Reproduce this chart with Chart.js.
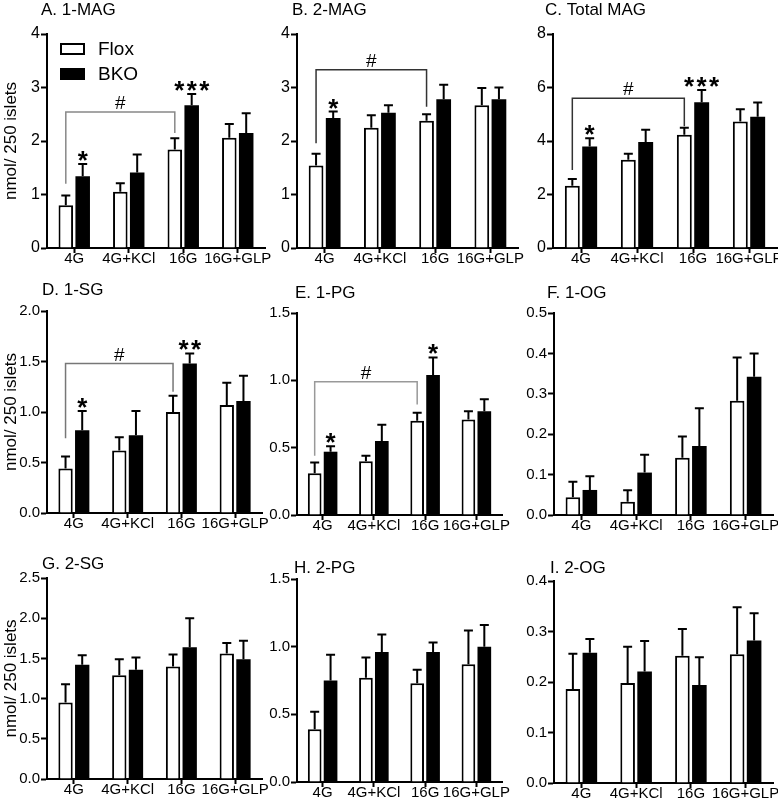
<!DOCTYPE html>
<html>
<head>
<meta charset="utf-8">
<script src="https://cdn.jsdelivr.net/npm/chart.js@4.4.0/dist/chart.umd.min.js"></script>
<style>
  html, body { margin: 0; padding: 0; background: #fff; overflow: hidden; }
  #wrap { position: relative; width: 778px; height: 805px; }
  canvas { position: absolute; }
</style>
</head>
<body>
<div id="wrap"></div>
<script>
const categories = ['4G', '4G+KCl', '16G', '16G+GLP'];

// A. 1-MAG
const floxA = [0.80, 1.05, 1.84, 2.06];
const floxAErr = [0.18, 0.16, 0.21, 0.26];
const bkoA = [1.34, 1.41, 2.67, 2.15];
const bkoAErr = [0.23, 0.34, 0.21, 0.37];
const ticksA = [0, 1, 2, 3, 4];
const starsA = [[0, 1], [2, 3]];
const bracketA = [2.54, 1.2, 2.15];

// B. 2-MAG
const floxB = [1.54, 2.25, 2.38, 2.67];
const floxBErr = [0.22, 0.23, 0.12, 0.32];
const bkoB = [2.43, 2.53, 2.78, 2.78];
const bkoBErr = [0.12, 0.14, 0.27, 0.22];
const ticksB = [0, 1, 2, 3, 4];
const starsB = [[0, 1]];
const bracketB = [3.33, 1.96, 2.64];

// C. Total MAG
const floxC = [2.33, 3.30, 4.23, 4.73];
const floxCErr = [0.25, 0.22, 0.27, 0.46];
const bkoC = [3.79, 3.96, 5.45, 4.91];
const bkoCErr = [0.31, 0.46, 0.46, 0.53];
const ticksC = [0, 2, 4, 6, 8];
const starsC = [[0, 1], [2, 3]];
const bracketC = [5.6, 2.92, 4.55];

// D. 1-SG
const floxD = [0.44, 0.62, 1.00, 1.07];
const floxDErr = [0.12, 0.13, 0.16, 0.22];
const bkoD = [0.82, 0.77, 1.48, 1.11];
const bkoDErr = [0.19, 0.24, 0.10, 0.25];
const ticksD = [0, 0.5, 1.0, 1.5, 2.0];
const starsD = [[0, 1], [2, 2]];
const bracketD = [1.48, 0.74, 1.2];

// E. 1-PG
const floxE = [0.31, 0.40, 0.70, 0.71];
const floxEErr = [0.08, 0.04, 0.06, 0.06];
const bkoE = [0.47, 0.55, 1.04, 0.77];
const bkoEErr = [0.04, 0.12, 0.13, 0.09];
const ticksE = [0, 0.5, 1.0, 1.5];
const starsE = [[0, 1], [2, 1]];
const bracketE = [0.99, 0.44, 0.82];

// F. 1-OG
const floxF = [0.044, 0.033, 0.142, 0.283];
const floxFErr = [0.038, 0.028, 0.052, 0.107];
const bkoF = [0.062, 0.105, 0.171, 0.342];
const bkoFErr = [0.034, 0.044, 0.093, 0.058];
const ticksF = [0, 0.1, 0.2, 0.3, 0.4, 0.5];

// G. 2-SG
const floxG = [0.95, 1.29, 1.40, 1.56];
const floxGErr = [0.23, 0.20, 0.15, 0.13];
const bkoG = [1.42, 1.36, 1.64, 1.49];
const bkoGErr = [0.12, 0.15, 0.36, 0.23];
const ticksG = [0, 0.5, 1.0, 1.5, 2.0, 2.5];

// H. 2-PG
const floxH = [0.39, 0.77, 0.73, 0.87];
const floxHErr = [0.13, 0.15, 0.10, 0.25];
const bkoH = [0.75, 0.96, 0.96, 1.00];
const bkoHErr = [0.19, 0.13, 0.07, 0.16];
const ticksH = [0, 0.5, 1.0, 1.5];

// I. 2-OG
const floxI = [0.186, 0.198, 0.252, 0.255];
const floxIErr = [0.070, 0.072, 0.053, 0.093];
const bkoI = [0.258, 0.221, 0.194, 0.282];
const bkoIErr = [0.027, 0.060, 0.055, 0.054];
const ticksI = [0, 0.1, 0.2, 0.3, 0.4];

const FONT = '"Liberation Sans", Arial, sans-serif';
Chart.defaults.font.family = FONT;
Chart.defaults.color = '#000';

// box: canvas left, axis left, axis right, plot top, plot bottom
const panels = [
  { title: 'A. 1-MAG', flox: floxA, floxErr: floxAErr, bko: bkoA, bkoErr: bkoAErr, ticks: ticksA, dec: 0, stars: starsA, bracket: bracketA, bColor: '#888', box: [0, 47, 265, 34, 248], tpos: [-6, 19], yTitle: true, legend: true },
  { title: 'B. 2-MAG', flox: floxB, floxErr: floxBErr, bko: bkoB, bkoErr: bkoBErr, ticks: ticksB, dec: 0, stars: starsB, bracket: bracketB, bColor: '#333', box: [255, 297, 518, 34, 248], tpos: [-5, 19] },
  { title: 'C. Total MAG', flox: floxC, floxErr: floxCErr, bko: bkoC, bkoErr: bkoCErr, ticks: ticksC, dec: 0, stars: starsC, bracket: bracketC, bColor: '#333', box: [510, 553, 777, 34, 248], tpos: [-8, 19] },
  { title: 'D. 1-SG', flox: floxD, floxErr: floxDErr, bko: bkoD, bkoErr: bkoDErr, ticks: ticksD, dec: 1, stars: starsD, bracket: bracketD, bColor: '#777', box: [0, 47, 262, 311, 513], tpos: [-5, 16], yTitle: true },
  { title: 'E. 1-PG', flox: floxE, floxErr: floxEErr, bko: bkoE, bkoErr: bkoEErr, ticks: ticksE, dec: 1, stars: starsE, bracket: bracketE, bColor: '#999', box: [255, 297, 502, 313, 515], tpos: [-2, 15] },
  { title: 'F. 1-OG', flox: floxF, floxErr: floxFErr, bko: bkoF, bkoErr: bkoFErr, ticks: ticksF, dec: 1, box: [510, 554, 773, 313, 515], tpos: [-7, 15] },
  { title: 'G. 2-SG', flox: floxG, floxErr: floxGErr, bko: bkoG, bkoErr: bkoGErr, ticks: ticksG, dec: 1, box: [0, 47, 262, 578, 779], tpos: [-5, 9], yTitle: true },
  { title: 'H. 2-PG', flox: floxH, floxErr: floxHErr, bko: bkoH, bkoErr: bkoHErr, ticks: ticksH, dec: 1, box: [255, 297, 502, 579, 782], tpos: [-3, 6] },
  { title: 'I. 2-OG', flox: floxI, floxErr: floxIErr, bko: bkoI, bkoErr: bkoIErr, ticks: ticksI, dec: 1, box: [510, 554, 773, 581, 783], tpos: [-4, 8] }
];

const errorBars = {
  id: 'errorBars',
  afterDatasetsDraw(chart) {
    const ctx = chart.ctx, y = chart.scales.y;
    chart.data.datasets.forEach((ds, di) => {
      chart.getDatasetMeta(di).data.forEach((bar, i) => {
        const top = y.getPixelForValue(ds.data[i] + ds.errors[i]);
        ctx.save();
        ctx.strokeStyle = '#000';
        ctx.lineWidth = 2;
        ctx.beginPath();
        ctx.moveTo(bar.x, bar.y);
        ctx.lineTo(bar.x, top);
        ctx.moveTo(bar.x - 4.5, top);
        ctx.lineTo(bar.x + 4.5, top);
        ctx.stroke();
        ctx.restore();
      });
    });
  }
};

const annotations = {
  id: 'annotations',
  afterDraw(chart, args, opts) {
    const ctx = chart.ctx, y = chart.scales.y, area = chart.chartArea;
    const p = opts.panel;
    const flox = chart.getDatasetMeta(0).data, bko = chart.getDatasetMeta(1).data;
    ctx.save();
    ctx.fillStyle = '#000';
    // panel title
    ctx.font = '17px ' + FONT;
    ctx.textAlign = 'left';
    ctx.textBaseline = 'alphabetic';
    ctx.fillText(p.title, area.left + p.tpos[0], area.top - p.tpos[1]);
    // significance stars, one glyph each so they sit close together
    (p.stars || []).forEach(([i, n]) => {
      const cap = y.getPixelForValue(p.bko[i] + p.bkoErr[i]);
      ctx.font = 'bold 26px ' + FONT;
      ctx.textAlign = 'center';
      for (let k = 0; k < n; k++) {
        ctx.fillText('*', bko[i].x + (k - (n - 1) / 2) * 12.5, cap + 5);
      }
    });
    // bracket with #
    if (p.bracket) {
      const [yv, l, r] = p.bracket;
      const x1 = flox[0].x, x2 = flox[2].x;
      const yy = y.getPixelForValue(yv);
      ctx.strokeStyle = p.bColor;
      ctx.lineWidth = 1.5;
      ctx.beginPath();
      ctx.moveTo(x1, y.getPixelForValue(l));
      ctx.lineTo(x1, yy);
      ctx.lineTo(x2, yy);
      ctx.lineTo(x2, y.getPixelForValue(r));
      ctx.stroke();
      ctx.font = '19px ' + FONT;
      ctx.textAlign = 'center';
      ctx.fillText('#', (x1 + x2) / 2, yy - 3);
    }
    // legend
    if (p.legend) {
      const lx = area.left + 13;
      ctx.lineWidth = 2;
      ctx.strokeStyle = '#000';
      ctx.fillStyle = '#fff';
      ctx.fillRect(lx, area.top + 9, 25, 12);
      ctx.strokeRect(lx + 1, area.top + 10, 23, 10);
      ctx.fillStyle = '#000';
      ctx.fillRect(lx, area.top + 34, 25, 12);
      ctx.font = '19px ' + FONT;
      ctx.textAlign = 'left';
      ctx.textBaseline = 'middle';
      ctx.fillText('Flox', area.left + 51, area.top + 16);
      ctx.fillText('BKO', area.left + 51, area.top + 41);
    }
    ctx.restore();
  }
};

const wrap = document.getElementById('wrap');
panels.forEach(p => {
  const [cl, al, ar, pt, pb] = p.box;
  const ct = pt - 34;
  const canvas = document.createElement('canvas');
  canvas.width = ar + 14 - cl;
  canvas.height = pb + 30 - ct;
  canvas.style.left = cl + 'px';
  canvas.style.top = ct + 'px';
  wrap.appendChild(canvas);

  const axisGrid = { display: true, drawOnChartArea: false, drawTicks: true, tickColor: '#000', tickWidth: 2, offset: false };
  new Chart(canvas, {
    type: 'bar',
    data: {
      labels: categories,
      datasets: [
        { label: 'Flox', data: p.flox, errors: p.floxErr, backgroundColor: '#fff', borderColor: '#000', borderWidth: 2 },
        { label: 'BKO', data: p.bko, errors: p.bkoErr, backgroundColor: '#000', borderColor: '#000', borderWidth: 0 }
      ]
    },
    options: {
      responsive: false,
      devicePixelRatio: 1,
      animation: false,
      categoryPercentage: 0.62,
      barPercentage: 0.86,
      layout: { padding: { top: 34, right: 14, bottom: 0, left: 0 } },
      scales: {
        x: {
          offset: true,
          grid: { ...axisGrid, tickLength: 5 },
          border: { display: true, color: '#000', width: 2 },
          ticks: { color: '#000', font: { size: 15 }, maxRotation: 0, minRotation: 0, autoSkip: false, padding: -3 },
          afterFit: s => { s.height = 30; }
        },
        y: {
          min: 0,
          max: p.ticks[p.ticks.length - 1],
          afterBuildTicks: s => { s.ticks = p.ticks.map(v => ({ value: v })); },
          grid: { ...axisGrid, tickLength: 6 },
          border: { display: true, color: '#000', width: 2 },
          ticks: { color: '#000', font: { size: p.dec ? 15 : 16 }, padding: 1, callback: v => Number(v).toFixed(p.dec) },
          title: { display: !!p.yTitle, text: 'nmol/ 250 islets', color: '#000', font: { size: 17 }, padding: { top: 1, bottom: 0 } },
          afterFit: s => { s.width = al - cl; }
        }
      },
      plugins: {
        legend: { display: false },
        tooltip: { enabled: false },
        annotations: { panel: p }
      }
    },
    plugins: [errorBars, annotations]
  });
});
</script>
</body>
</html>
